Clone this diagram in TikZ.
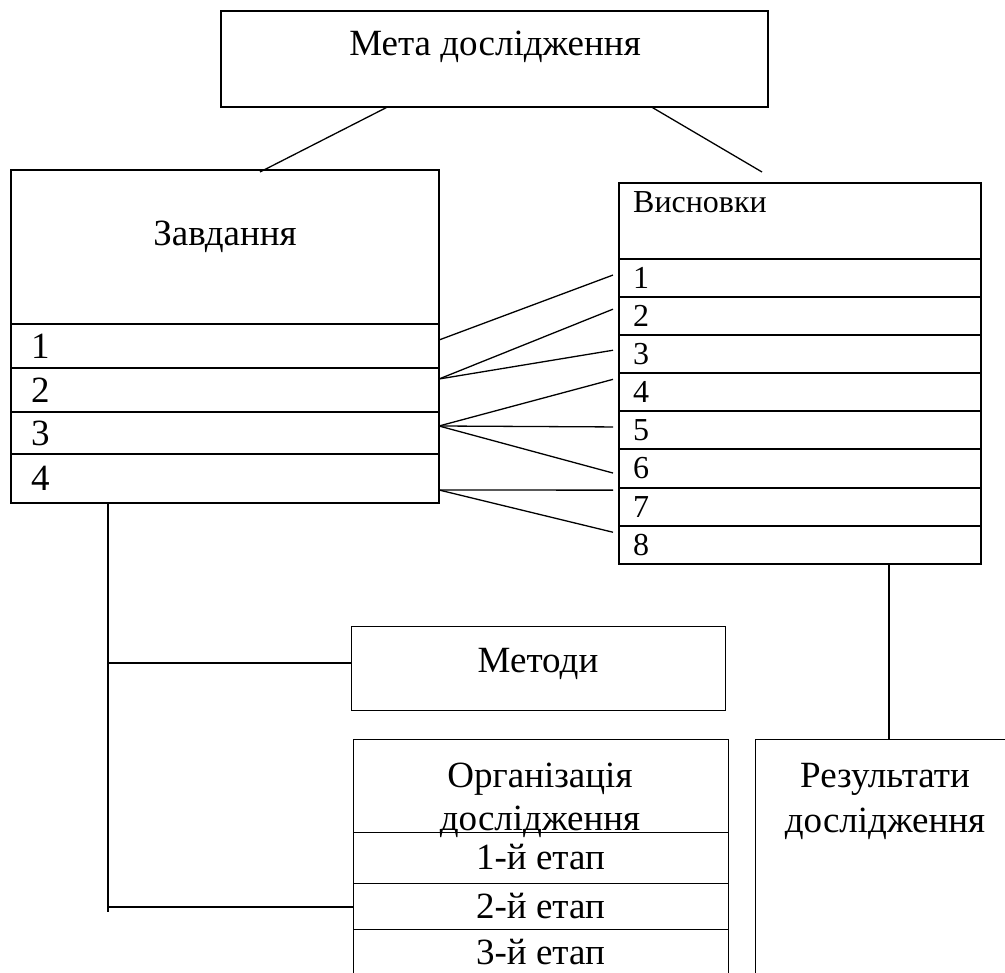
\documentclass[tikz,border=0pt]{standalone}
\usepackage{fontspec}
\setmainfont{Liberation Serif}
\usetikzlibrary{positioning}
\begin{document}
\begin{tikzpicture}[x=1pt, y=-1pt,
  font=\fontsize{37}{45}\selectfont,
  box/.style={draw, line width=1.1pt, inner sep=0pt, outer sep=0pt, anchor=north west},
  zrow/.style={box, line width=1.2pt, text width=388pt, inner xsep=20pt, align=left},
  vrow/.style={box, line width=2pt, minimum height=38.1pt, text width=334pt, inner xsep=14pt, align=left, font=\fontsize{32}{38}\selectfont},
  orow/.style={box, line width=1pt, minimum width=375pt},
  lbl/.style={inner sep=0pt, anchor=base},
  link/.style={line width=1.3pt}]

\useasboundingbox (0,0) rectangle (1005,973);
\clip (0,0) rectangle (1005,973);

% goal
\node[box, minimum width=547pt, minimum height=96pt] (meta) at (221,11) {};
\node[lbl] (metalbl) at (495,56) {Мета дослідження};

% tasks
\node[box, line width=1.2pt, minimum width=428pt, minimum height=154pt] (z0) at (11,170) {};
\node[lbl] (z0lbl) at (225,246) {Завдання};
\node[zrow, minimum height=44pt, below=0pt of z0] (z1) {1};
\node[zrow, minimum height=44pt, below=0pt of z1] (z2) {2};
\node[zrow, minimum height=42pt, below=0pt of z2] (z3) {3};
\node[zrow, minimum height=49pt, below=0pt of z3] (z4) {4};

% conclusions
\node[box, line width=2pt, minimum width=362pt, minimum height=76pt] (v0) at (619,183) {};
\node[lbl, anchor=base west, font=\fontsize{32}{38}\selectfont] (v0lbl) at (633,213) {Висновки};
\node[vrow, below=0pt of v0] (v1) {1};
\node[vrow, below=0pt of v1] (v2) {2};
\node[vrow, below=0pt of v2] (v3) {3};
\node[vrow, below=0pt of v3] (v4) {4};
\node[vrow, below=0pt of v4] (v5) {5};
\node[vrow, below=0pt of v5] (v6) {6};
\node[vrow, below=0pt of v6] (v7) {7};
\node[vrow, below=0pt of v7] (v8) {8};

% methods
\node[box, line width=1pt, minimum width=374pt, minimum height=84pt] (meth) at (351,626) {};
\node[lbl] (methlbl) at (538,672) {Методи};

% organisation of the study
\node[orow, minimum height=93pt] (o0) at (353,739) {};
\node[lbl] (o0lbla) at (540,787) {Організація};
\node[lbl] (o0lblb) at (540,830) {дослідження};
\node[orow, minimum height=51pt, below=0pt of o0] (o1) {1-й етап};
\node[orow, minimum height=46pt, below=0pt of o1] (o2) {2-й етап};
\node[orow, minimum height=46pt, below=0pt of o2] (o3) {3-й етап};

% results
\node[box, line width=1pt, minimum width=300pt, minimum height=300pt] (res) at (755,739) {};
\node[lbl] (reslbla) at (885,787) {Результати};
\node[lbl] (reslblb) at (885,832) {дослідження};

% goal -- tasks, goal -- conclusions
\draw[link] ([xshift=-107pt]meta.south) -- ([xshift=35pt,yshift=-2pt]z0.north);
\draw[link] ([xshift=157pt]meta.south) -- ([xshift=-38pt,yshift=11pt]v0.north);

% tasks -- conclusions
\draw[link] ([yshift=6pt]z1.east) -- ([xshift=-6pt,yshift=3pt]v1.west);
\draw[link] ([yshift=11pt]z2.east) -- ([xshift=-6pt,yshift=7pt]v2.west);
\draw[link] ([yshift=11pt]z2.east) -- ([xshift=-6pt,yshift=4pt]v3.west);
\draw[link] ([yshift=7pt]z3.east) -- ([xshift=-6pt,yshift=13pt]v4.west);
\draw[link] ([yshift=7pt]z3.east) -- ([xshift=-6pt,yshift=3.5pt]v5.west);
\draw[link] ([yshift=7pt]z3.east) -- ([xshift=-6pt,yshift=-4.5pt]v6.west);
\draw[link] ([yshift=-11.5pt]z4.east) -- ([xshift=-6pt,yshift=16.5pt]v7.west);
\draw[link] ([yshift=-11.5pt]z4.east) -- ([xshift=-6pt,yshift=12.5pt]v8.west);

% tasks -- methods, organisation
\coordinate (tm) at (108,663);
\coordinate (to) at (108,907);
\draw[link] (tm |- z4.south) -- ([yshift=-5pt]to);
\draw[link] (tm) -- (tm -| meth.west);
\draw[link] (to) -- (to -| o2.west);

% conclusions -- results
\coordinate (rt) at (889,739);
\draw[link] (rt |- v8.south) -- (rt);

\end{tikzpicture}
\end{document}
